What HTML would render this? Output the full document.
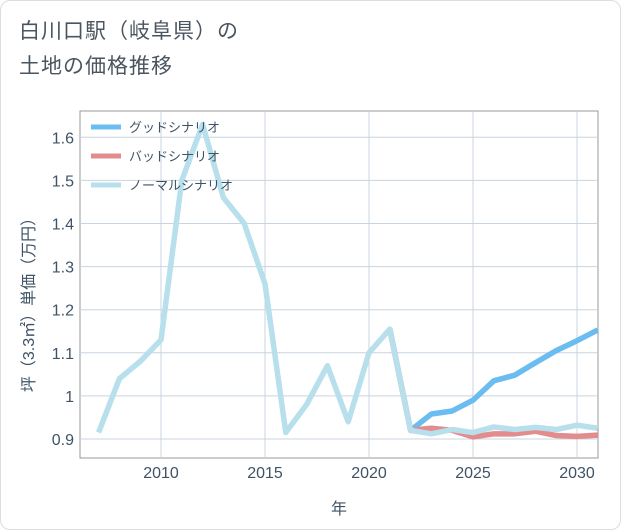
<!DOCTYPE html>
<html><head><meta charset="utf-8">
<style>
body{margin:0;background:#fff;font-family:"Liberation Sans","Noto Sans CJK JP",sans-serif;}
#card{position:absolute;left:0;top:0;width:619px;height:528px;border:1px solid #ddd;border-radius:10px;background:#fff;}
#title{position:absolute;left:18px;top:13px;font-size:21px;line-height:35px;color:#4a5560;letter-spacing:1px;}
</style></head><body>
<div id="card">
<div id="title">白川口駅（岐阜県）の<br>土地の価格推移</div>
<svg id="chart" width="621" height="530" style="position:absolute;left:0;top:0"></svg>
</div>
<script>
const years=[2007,2008,2009,2010,2011,2012,2013,2014,2015,2016,2017,2018,2019,2020,2021,2022,2023,2024,2025,2026,2027,2028,2029,2030,2031];
const normalVals=[0.915,1.04,1.08,1.13,1.50,1.63,1.46,1.40,1.26,0.915,0.98,1.07,0.94,1.10,1.155,0.92,0.912,0.922,0.915,0.928,0.922,0.927,0.922,0.932,0.925];
const futureYears=[2021,2022,2023,2024,2025,2026,2027,2028,2029,2030,2031];
const goodVals=[1.155,0.92,0.958,0.965,0.99,1.035,1.048,1.077,1.105,1.128,1.153];
const badVals=[1.155,0.92,0.925,0.92,0.905,0.912,0.912,0.918,0.908,0.906,0.909];
const xTicks=[2010,2015,2020,2025,2030];
const yTicks=[0.9,1,1.1,1.2,1.3,1.4,1.5,1.6];
const yTickLabels=["0.9","1","1.1","1.2","1.3","1.4","1.5","1.6"];
const L=79,R=597,T=110,B=457;
const x=v=>160+(v-2010)*20.8;
const y=v=>438-(v-0.9)*431;
const svg=document.getElementById('chart');
const NS='http://www.w3.org/2000/svg';
const TC='#3f5366';
function mk(t,a,p){const e=document.createElementNS(NS,t);for(const k in a)e.setAttribute(k,a[k]);(p||svg).appendChild(e);return e;}
const bg=mk('rect',{x:L,y:T,width:R-L,height:B-T,fill:'#fff',stroke:'#999','stroke-width':1});

xTicks.forEach(t=>{const g=mk('line',{x1:x(t),x2:x(t),y1:T,y2:B,stroke:'#c8d4e0'});

const tx=mk('text',{x:x(t),y:477,'text-anchor':'middle','font-size':16,fill:TC});tx.textContent=t;
});
yTicks.forEach((t,i)=>{const g=mk('line',{x1:L,x2:R,y1:y(t),y2:y(t),stroke:'#c8d4e0'});

const tx=mk('text',{x:73,y:y(t)+6,'text-anchor':'end','font-size':16,fill:TC});tx.textContent=yTickLabels[i];
});
function line(xs,vs,color,name){const p=mk('polyline',{points:xs.map((v,i)=>x(v)+','+y(vs[i])).join(' '),fill:'none',stroke:color,'stroke-width':5.5,'stroke-linejoin':'round'});
}
line(futureYears,goodVals,'#6bbcf0','good-scenario-line');
line(futureYears,badVals,'#e38c8e','bad-scenario-line');
line(years,normalVals,'#b8dfec','normal-scenario-line');
const leg=[['グッドシナリオ','#6bbcf0'],['バッドシナリオ','#e38c8e'],['ノーマルシナリオ','#b8dfec']];
leg.forEach((l,i)=>{const yy=126+i*29;
const s=mk('line',{x1:90,x2:120,y1:yy,y2:yy,stroke:l[1],'stroke-width':5});

const t=mk('text',{x:128,y:yy+5,'font-size':13,fill:TC});t.textContent=l[0];
});
const xt=mk('text',{x:338,y:513,'text-anchor':'middle','font-size':16,fill:TC});xt.textContent='年';

const yt=mk('text',{x:0,y:0,'text-anchor':'middle','font-size':16,fill:TC,transform:'translate(33,300) rotate(-90)'});yt.textContent='坪（3.3㎡）単価（万円）';

</script>
</body></html>
